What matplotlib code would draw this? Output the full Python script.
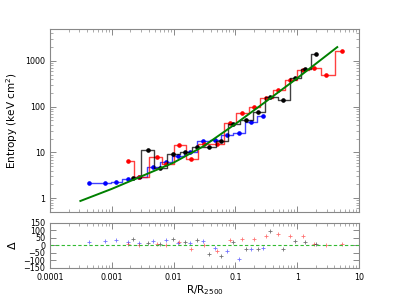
import matplotlib
matplotlib.use("Agg")
import matplotlib.pyplot as plt
from matplotlib.ticker import FixedLocator, FixedFormatter, NullFormatter, LogLocator

# --- data ---
blue_r = [0.00043, 0.00078, 0.00117, 0.0018, 0.0028, 0.0047, 0.0074, 0.0116,
          0.0184, 0.0296, 0.0467, 0.0722, 0.114, 0.177, 0.275]
blue_k = [2.2, 2.2, 2.3, 2.65, 2.85, 4.7, 6.3, 8.3, 10.5, 17.5, 18.5, 24.5, 26, 46, 62]
blue_d = [20, 31, 39, 24, 15, 28, 37, 15, 18, 28, -18, -35, -90, -26, -18]

red_r = [0.0018, 0.0028, 0.0053, 0.0076, 0.0124, 0.019, 0.031, 0.050, 0.0804,
         0.128, 0.199, 0.31, 0.49, 0.77, 1.22, 1.9, 2.9, 5.3]
red_k = [6.6, 2.85, 8.1, 5.6, 14.6, 7.1, 15, 15, 43.8, 72.6, 96.6, 155, 228, 392,
         628, 708, 487, 1641]
red_d = [7, 2, 13, 2, 26, -26, 4, -39, 37, 42, 42, 66, 77, 66, 61, 13, 0, 7]

black_r = [0.00223, 0.0038, 0.006, 0.0099, 0.0153, 0.0237, 0.0375, 0.0589, 0.0927,
           0.148, 0.236, 0.37, 0.596, 0.91, 1.36, 1.98]
black_k = [2.7, 11.5, 4.5, 9.3, 10.5, 13.5, 13, 18, 41.7, 52, 75, 160, 142, 420,
           660, 1450]
black_d = [46, 18, 13, 46, 22, 35, -59, -68, 20, -26, -26, 94, -26, 33, 24, 7]

fit_r = [0.00031, 0.001, 0.003, 0.01, 0.03, 0.1, 0.3, 1, 4.45]
fit_k = [0.87, 1.6, 3.0, 6.0, 13.5, 42, 125, 420, 2010]

xticks = [0.0001, 0.001, 0.01, 0.1, 1, 10]
xlabels = ["0.0001", "0.001", "0.01", "0.1", "1", "10"]
yticks = [1, 10, 100, 1000]
ylabels = ["1", "10", "100", "1000"]
dticks = [-150, -100, -50, 0, 50, 100, 150]
dlabels = ["\u2212150", "\u2212100", "\u221250", "0", "50", "100", "150"]

fig = plt.figure(figsize=(3.99, 2.99), dpi=100)
ax = fig.add_axes([0.1253, 0.291, 0.7744, 0.612])
ax2 = fig.add_axes([0.1253, 0.1037, 0.7744, 0.1505])

series = [(blue_r, blue_k, blue_d, "blue"),
          (red_r, red_k, red_d, "red"),
          (black_r, black_k, black_d, "black")]

for r, k, d, c in series:
    ax.plot(r, k, drawstyle="steps-mid", color=c, lw=1.0, alpha=0.75)
    ax.plot(r, k, "o", color=c, ms=2.3, mec=c)
    ax2.plot(r, d, "+", color=c, ms=3, mew=0.6, alpha=0.55)

ax.plot(fit_r, fit_k, color="green", lw=1.4)
ax2.axhline(0, color="#33bb33", ls="--", lw=0.8, dashes=(3, 2))

for a in (ax, ax2):
    a.set_xscale("log")
    a.set_xlim(0.0001, 10)
    for s in a.spines.values():
        s.set_color("#888888")
    a.tick_params(which="both", direction="in", top=True, right=True,
                  colors="#888888", labelcolor="black", labelsize=5.8)
    a.tick_params(which="major", length=4, width=0.7)
    a.tick_params(which="minor", length=2, width=0.5)
    a.xaxis.set_major_locator(FixedLocator(xticks))
    a.xaxis.set_minor_locator(LogLocator(base=10, subs=range(2, 10)))
    a.xaxis.set_minor_formatter(NullFormatter())

ax.set_yscale("log")
ax.set_ylim(0.5, 5000)
ax.yaxis.set_major_locator(FixedLocator(yticks))
ax.yaxis.set_major_formatter(FixedFormatter(ylabels))
ax.yaxis.set_minor_locator(LogLocator(base=10, subs=range(2, 10)))
ax.yaxis.set_minor_formatter(NullFormatter())
ax.xaxis.set_major_formatter(NullFormatter())
ax.set_ylabel("Entropy (keV cm$^2$)", fontsize=7.5)

ax2.set_ylim(-150, 150)
ax2.yaxis.set_major_locator(FixedLocator(dticks))
ax2.yaxis.set_major_formatter(FixedFormatter(dlabels))
ax2.xaxis.set_major_formatter(FixedFormatter(xlabels))
ax2.set_ylabel("\u0394", fontsize=8)
ax2.set_xlabel("R/R$_{2500}$", fontsize=7.5, labelpad=1)

fig.savefig("out.png", dpi=100)
